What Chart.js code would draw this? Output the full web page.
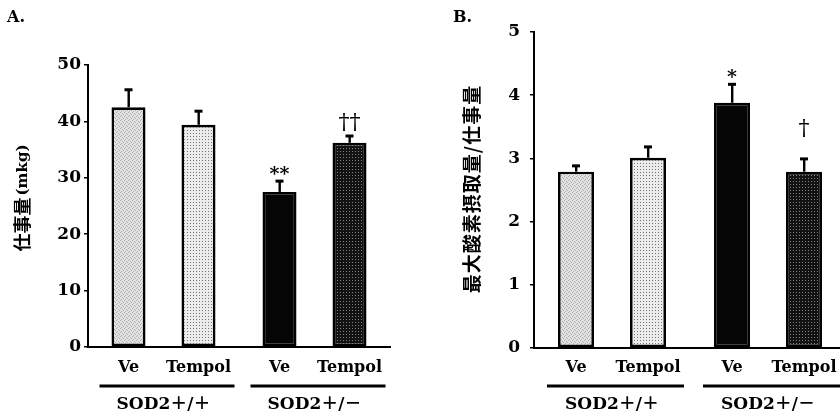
<!DOCTYPE html>
<html><head><meta charset="utf-8">
<script src="https://cdn.jsdelivr.net/npm/chart.js@4.4.1/dist/chart.umd.min.js"></script>
<style>
html,body{margin:0;padding:0;background:#fff;overflow:hidden;width:840px;height:419px}
#wa{position:absolute;left:0;top:0;width:420px;height:419px}
#wb{position:absolute;left:420px;top:0;width:426px;height:419px}
</style></head><body>
<div id="wa"><canvas id="ca"></canvas></div>
<div id="wb"><canvas id="cb"></canvas></div>
<script>
// ---- data ----
const groups = ['SOD2＋/＋', 'SOD2＋/－'];
const treatments = ['Ve', 'Tempol'];
// Panel A: 仕事量 (mkg)
const workVe = [42.5, 27.5];
const workTempol = [39.4, 36.2];
const workVeSE = [3.2, 2.0];
const workTempolSE = [2.5, 1.3];
const workVeMark = ['', '**'];
const workTempolMark = ['', '††'];
const workTicks = [0, 10, 20, 30, 40, 50];
// Panel B: 最大酸素摂取量/仕事量
const ratioVe = [2.79, 3.88];
const ratioTempol = [3.01, 2.79];
const ratioVeSE = [0.10, 0.30];
const ratioTempolSE = [0.18, 0.21];
const ratioVeMark = ['', '*'];
const ratioTempolMark = ['', '†'];
const ratioTicks = [0, 1, 2, 3, 4, 5];

const SERIF = '"DejaVu Serif", "Noto Sans CJK JP", serif';
const CJK = '"Noto Sans CJK JP", sans-serif';

function pat(w, h, bg, fg, pts) {
  const c = document.createElement('canvas'); c.width = w; c.height = h;
  const x = c.getContext('2d');
  x.fillStyle = bg; x.fillRect(0, 0, w, h);
  x.fillStyle = fg; pts.forEach(p => x.fillRect(p[0], p[1], 1, 1));
  return x.createPattern(c, 'repeat');
}
const pLight = pat(4, 4, '#e2e2e2', '#b0b0b0', [[0,0],[2,1],[1,3],[3,2]]);
const pDots = pat(3, 3, '#ececec', '#747474', [[1,1]]);
const pDark = pat(3, 3, '#121212', '#808080', [[1,1]]);

function deco(o) {
  return {
    id: 'deco',
    afterDatasetsDraw(chart) {
      const ctx = chart.ctx, y = chart.scales.y;
      ctx.save();
      chart.data.datasets.forEach((ds, i) => {
        const meta = chart.getDatasetMeta(i);
        meta.data.forEach((el, j) => {
          const v = ds.data[j], se = o.se[i][j];
          const yt = y.getPixelForValue(v), ye = y.getPixelForValue(v + se);
          ctx.fillStyle = '#000';
          ctx.fillRect(el.x - 1, ye, 2.4, yt - ye);
          ctx.fillRect(el.x - 4, ye - 1, 8, 3);
          const m = o.marks[i][j];
          if (m) {
            ctx.textAlign = 'center'; ctx.textBaseline = 'alphabetic';
            if (m.indexOf('*') >= 0) {
              ctx.font = 'bold 19px ' + SERIF;
              ctx.fillText(m, el.x, ye - 1);
            } else {
              ctx.font = '22px ' + SERIF;
              ctx.fillText(m, el.x, ye - o.daggerGap);
            }
          }
        });
      });
      ctx.restore();
    },
    afterDraw(chart) {
      const ctx = chart.ctx, x = chart.scales.x, ca = chart.chartArea;
      const m0 = chart.getDatasetMeta(0), m1 = chart.getDatasetMeta(1);
      ctx.save();
      ctx.fillStyle = '#000'; ctx.strokeStyle = '#000';
      ctx.textAlign = 'center'; ctx.textBaseline = 'middle';
      chart.data.labels.forEach((g, gi) => {
        const xa = m0.data[gi].x, xb = m1.data[gi].x;
        ctx.font = 'bold 16px ' + SERIF;
        ctx.fillText(treatments[0], xa, 368);
        ctx.fillText(treatments[1], xb, 368);
        ctx.fillRect(xa - 29, 384.5, Math.min(xb + 36, ca.right) - (xa - 29), 3);
        ctx.font = 'bold 17px ' + SERIF;
        ctx.fillText(g, x.getPixelForValue(gi), 405);
      });
      // panel letter
      ctx.textAlign = 'left';
      ctx.font = 'bold 16px ' + SERIF;
      ctx.fillText(o.letter, o.letterX, 18);
      // y title
      ctx.translate(o.titleX, o.titleY);
      ctx.rotate(-Math.PI / 2);
      ctx.textBaseline = 'middle';
      ctx.font = 'bold ' + o.titleSize + 'px ' + CJK;
      if (o.titleLetterSpacing) ctx.letterSpacing = o.titleLetterSpacing;
      const w1 = ctx.measureText(o.title).width;
      let w2 = 0;
      if (o.titleSuffix) { ctx.font = 'bold 15px ' + SERIF; w2 = ctx.measureText(o.titleSuffix).width + 2; }
      let sx = -(w1 + w2) / 2;
      ctx.font = 'bold ' + o.titleSize + 'px ' + CJK;
      ctx.fillText(o.title, sx, 0);
      if (o.titleSuffix) { ctx.font = 'bold 15px ' + SERIF; ctx.fillText(o.titleSuffix, sx + w1 + 2, 1); }
      ctx.restore();
    }
  };
}

function makeChart(id, vals, fills, tickArr, max, o, lay) {
  return new Chart(document.getElementById(id), {
    type: 'bar',
    data: {
      labels: groups,
      datasets: [
        { label: treatments[0], data: vals[0], backgroundColor: fills[0] },
        { label: treatments[1], data: vals[1], backgroundColor: fills[1] }
      ]
    },
    options: {
      responsive: true, maintainAspectRatio: false, animation: false,
      layout: { padding: { left: 0, right: lay.right, top: lay.top, bottom: 0 } },
      plugins: { legend: { display: false }, tooltip: { enabled: false } },
      datasets: { bar: { categoryPercentage: lay.cat, barPercentage: lay.bar, borderColor: '#000', borderWidth: 2.7, borderSkipped: false } },
      scales: {
        x: {
          grid: { display: false }, border: { color: '#000', width: 2 },
          ticks: { display: false },
          afterFit(s) { s.height = lay.xh; }
        },
        y: {
          min: 0, max: max,
          afterBuildTicks(s) { s.ticks = tickArr.map(v => ({ value: v })); },
          grid: { drawOnChartArea: false, drawTicks: true, tickLength: 4, color: '#000', lineWidth: 1.5 },
          border: { color: '#000', width: 2 },
          ticks: { color: '#000', font: { family: SERIF, weight: 'bold', size: 17 }, padding: lay.tp },
          afterFit(s) { s.width = lay.yw; }
        }
      }
    },
    plugins: [deco(o)]
  });
}

makeChart('ca', [workVe, workTempol], [[pLight, '#050505'], [pDots, pDark]], workTicks, 50,
  { se: [workVeSE, workTempolSE], marks: [workVeMark, workTempolMark], daggerGap: 7,
    letter: 'A.', letterX: 7, title: '仕事量', titleSuffix: '(mkg)', titleSize: 18, titleX: 22, titleY: 198 },
  { right: 30, top: 65, xh: 72, yw: 88, cat: 0.927, bar: 0.486, tp: 3 });

makeChart('cb', [ratioVe, ratioTempol], [[pLight, '#050505'], [pDots, pDark]], ratioTicks, 5,
  { se: [ratioVeSE, ratioTempolSE], marks: [ratioVeMark, ratioTempolMark], daggerGap: 23,
    letter: 'B.', letterX: 33, title: '最大酸素摂取量/仕事量', titleSize: 19, titleLetterSpacing: '1px', titleX: 52, titleY: 189 },
  { right: 0, top: 32, xh: 71, yw: 114, cat: 0.923, bar: 0.5, tp: 10 });
</script>
</body></html>
